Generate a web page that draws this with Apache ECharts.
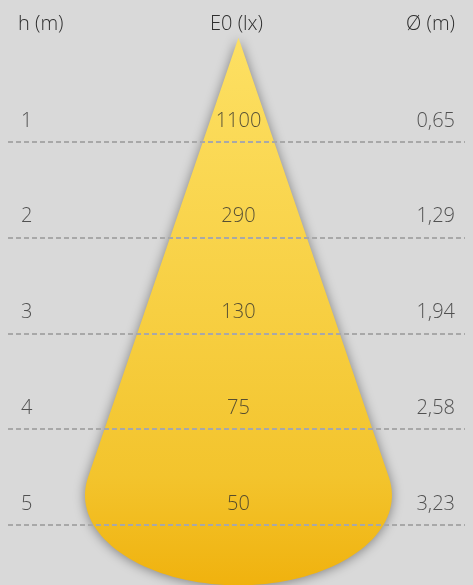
<!DOCTYPE html>
<html>
<head>
<meta charset="utf-8">
<script src="https://cdn.jsdelivr.net/npm/echarts@6/dist/echarts.min.js"></script>
<style>
    html, body { margin: 0; padding: 0; background: #d9d9d9; }
    #main { width: 473px; height: 585px; }
</style>
</head>
<body>
<div id="main"></div>
<script>
// 行数据
const heights = [1, 2, 3, 4, 5];
const illuminance = [1100, 290, 130, 75, 50];
const diameters = ['0,65', '1,29', '1,94', '2,58', '3,23'];
const headers = ['h (m)', 'E0 (lx)', 'Ø (m)'];

// 光锥形状 (单位: 米)
const coneApex = -0.09;
const coneBaseCenter = 4.69;
const coneBaseRx = 1.486;
const coneBaseRy = 0.94;

// 坐标轴范围
const xMin = -2.231, xMax = 2.193;
const yMin = -0.483, yMax = 5.627;

const font = '"Open Sans", sans-serif';
const textColor = '#2e2e2e';

// 计算光锥轮廓
function conePoints() {
    const d = coneBaseCenter - coneApex;
    const t0 = Math.asin(coneBaseRy / d);
    const pts = [[0, coneApex]];
    const start = -t0, end = Math.PI + t0;
    const steps = 80;
    for (let i = 0; i <= steps; i++) {
        const t = start + (end - start) * i / steps;
        pts.push([coneBaseRx * Math.cos(t), coneBaseCenter + coneBaseRy * Math.sin(t)]);
    }
    return pts;
}

const rowLabel = {
    show: true,
    position: 'inside',
    fontFamily: font,
    fontSize: 20,
    fontWeight: 300,
    color: textColor
};

const myChart = echarts.init(document.getElementById('main'));

const option = {
    backgroundColor: '#d9d9d9',
    animation: false,
    title: [
        { text: headers[0], left: 18, top: 14 },
        { text: headers[1], left: 'center', top: 14 },
        { text: headers[2], right: 18, top: 14 }
    ].map(t => Object.assign(t, {
        padding: 0,
        textStyle: { fontFamily: font, fontSize: 20, fontWeight: 300, color: textColor, lineHeight: 21 }
    })),
    grid: { left: 8, right: 8, top: 0, bottom: 0 },
    xAxis: { type: 'value', min: xMin, max: xMax, show: false },
    yAxis: { type: 'value', min: yMin, max: yMax, inverse: true, show: false },
    series: [
        {
            type: 'custom',
            z: 1,
            clip: false,
            data: [[0, 0]],
            renderItem: function (params, api) {
                const points = conePoints().map(p => api.coord(p));
                return {
                    type: 'polygon',
                    shape: { points: points },
                    style: {
                        fill: new echarts.graphic.LinearGradient(0, 0, 0, 1, [
                            { offset: 0, color: '#fde063' },
                            { offset: 0.5, color: '#f7cf42' },
                            { offset: 0.8, color: '#f3c42d' },
                            { offset: 1, color: '#f0b20e' }
                        ]),
                        shadowBlur: 12,
                        shadowColor: 'rgba(0,0,0,0.42)',
                        shadowOffsetY: 1
                    }
                };
            }
        },
        {
            // h
            type: 'scatter',
            z: 3,
            symbolSize: 0,
            data: heights.map(h => [xMin, h]),
            label: Object.assign({}, rowLabel, {
                align: 'left',
                offset: [13, -21],
                formatter: p => String(p.value[1])
            })
        },
        {
            // E0
            type: 'scatter',
            z: 3,
            symbolSize: 0,
            data: heights.map((h, i) => ({ value: [0, h], name: String(illuminance[i]) })),
            label: Object.assign({}, rowLabel, {
                align: 'center',
                offset: [0, -21],
                formatter: p => p.name
            }),
            markLine: {
                silent: true,
                symbol: ['none', 'none'],
                label: { show: false },
                lineStyle: { type: [5, 3], color: '#a8a8a8', width: 2 },
                data: heights.map(h => ({ yAxis: h }))
            }
        },
        {
            // Ø
            type: 'scatter',
            z: 3,
            symbolSize: 0,
            data: heights.map((h, i) => ({ value: [xMax, h], name: diameters[i] })),
            label: Object.assign({}, rowLabel, {
                align: 'right',
                offset: [-10, -21],
                formatter: p => p.name
            })
        }
    ]
};

myChart.setOption(option);
</script>
</body>
</html>
